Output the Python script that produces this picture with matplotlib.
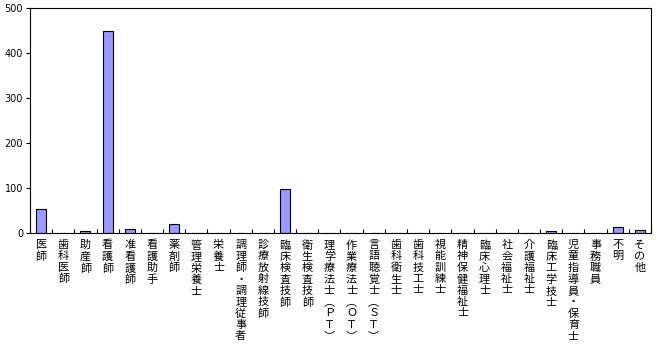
import matplotlib
matplotlib.use("Agg")
import matplotlib.pyplot as plt
import numpy as np

plt.rcParams['font.family'] = ['Noto Sans CJK JP', 'DejaVu Sans']

categories = ["医師", "歯科医師", "助産師", "看護師", "准看護師", "看護助手", "薬剤師",
              "管理栄養士", "栄養士", "調理師・調理従事者", "診療放射線技師", "臨床検査技師",
              "衛生検査技師", "理学療法士︵ＰＴ︶", "作業療法士︵ＯＴ︶", "言語聴覚士︵ＳＴ︶",
              "歯科衛生士", "歯科技工士", "視能訓練士", "精神保健福祉士", "臨床心理士",
              "社会福祉士", "介護福祉士", "臨床工学技士", "児童指導員・保育士", "事務職員",
              "不明", "その他"]
values = [53, 0, 4, 448, 10, 1, 21, 0, 0, 0, 1, 97, 1, 0, 0, 0, 0, 0, 0, 0, 0, 0, 0, 4, 0, 1, 13, 6]
yticks = [0, 100, 200, 300, 400, 500]

fig = plt.figure(figsize=(6.59, 3.51), dpi=100)
ax = fig.add_axes([30/659, 1-233/351, (651-30)/659, (233-8)/351])
x = np.arange(len(categories))
ax.bar(x, values, width=0.45, color='#9999FF', edgecolor='black', linewidth=0.8)
ax.set_xlim(-0.5, len(categories)-0.5)
ax.set_ylim(0, 500)
ax.set_yticks(yticks)
ax.set_yticklabels([str(v) for v in yticks], fontsize=7, family='DejaVu Sans')
ax.tick_params(axis='y', direction='out', length=3, width=0.8, pad=2)
ax.set_xticks(x)
ax.set_xticklabels(['\n'.join(c) for c in categories], fontsize=8, linespacing=1.16, va='top')
ax.tick_params(axis='x', which='major', length=0, pad=5)
ax.set_xticks(np.arange(len(categories)+1)-0.5, minor=True)
ax.tick_params(axis='x', which='minor', direction='in', length=3, width=0.8)
for s in ax.spines.values():
    s.set_linewidth(0.8)
fig.savefig("out.png", dpi=100)
